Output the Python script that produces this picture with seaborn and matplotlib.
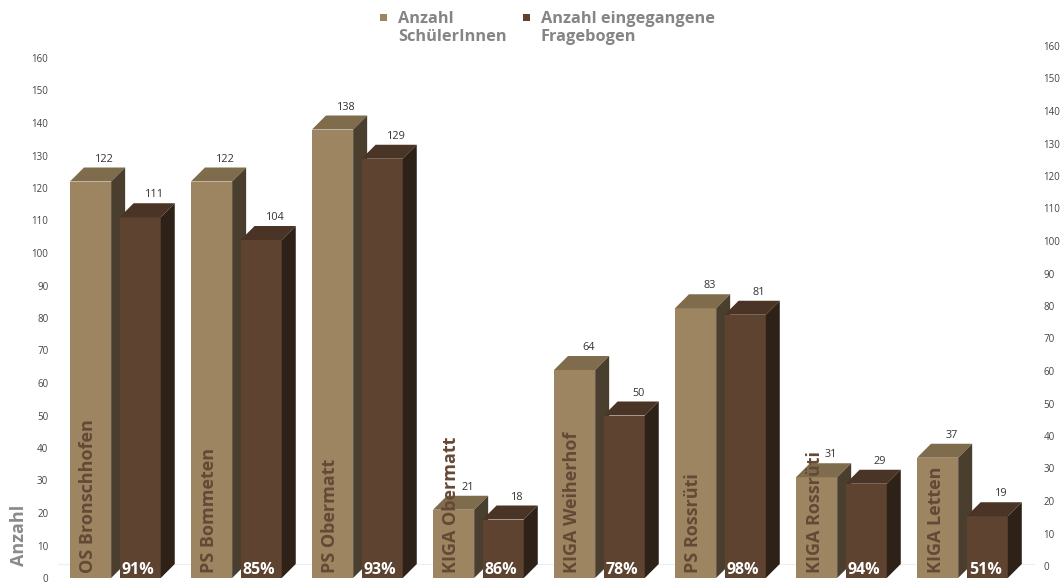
import matplotlib
matplotlib.use("Agg")
import matplotlib.pyplot as plt
from matplotlib.patches import Polygon, Rectangle
import seaborn as sns
import pandas as pd

categories = ["OS Bronschhofen", "PS Bommeten", "PS Obermatt", "KIGA Obermatt",
              "KIGA Weiherhof", "PS Rossrüti", "KIGA Rossrüti", "KIGA Letten"]
schueler = [122, 122, 138, 21, 64, 83, 31, 37]
frageboegen = [111, 104, 129, 18, 50, 81, 29, 19]
prozent = [91, 85, 93, 86, 78, 98, 94, 51]
series_names = ["Anzahl\nSchülerInnen", "Anzahl eingegangene\nFragebogen"]
y_ticks = list(range(0, 161, 10))

front = ["#9c8560", "#5e4330"]
top = ["#7f6c4d", "#4a3425"]
side = ["#4a3f2f", "#2e2117"]

sns.set_theme(style="white")
plt.rcParams["font.family"] = ["Open Sans", "DejaVu Sans"]

df = pd.DataFrame({
    "Kategorie": categories * 2,
    "Wert": schueler + frageboegen,
    "Serie": [series_names[0]] * len(categories) + [series_names[1]] * len(categories),
})

W, H = 1062, 583
fig = plt.figure(figsize=(W / 100, H / 100), dpi=100)
ax = fig.add_axes([58 / W, 5 / H, 977 / W, 520 / H])

sns.barplot(data=df, x="Kategorie", y="Wert", hue="Serie", palette=front,
            width=0.82, gap=0.17, saturation=1, linewidth=0, legend=False, ax=ax)

ax.set_xlim(-0.474, 7.6)
ax.set_ylim(0, 160)
ax.set_xlabel("")
ax.set_ylabel("")
ax.set_xticks([])
ax.set_yticks(y_ticks)
ax.tick_params(axis="y", length=0, pad=7, labelsize=7, labelcolor="#444444")
for s in ax.spines.values():
    s.set_visible(False)

# 3D depth in pixels -> data units
p0 = ax.transData.transform((0, 0))
p1 = ax.transData.transform((1, 1))
dx = 14 / (p1[0] - p0[0])
dy = 14 / (p1[1] - p0[1])

# faint floor line
ax.axhline(dy, color="#eeeeee", lw=0.8, zorder=0.5)

for k, cont in enumerate(ax.containers):
    for i, bar in enumerate(cont):
        bar.set_zorder(2 + k)
        x0 = bar.get_x()
        w = bar.get_width()
        h = bar.get_height()
        x1 = x0 + w
        ax.add_patch(Polygon([(x0, h), (x1, h), (x1 + dx, h + dy), (x0 + dx, h + dy)],
                             closed=True, facecolor=top[k], edgecolor="none", zorder=2 + k))
        ax.add_patch(Polygon([(x1, 0), (x1, h), (x1 + dx, h + dy), (x1 + dx, dy)],
                             closed=True, facecolor=side[k], edgecolor="none", zorder=2 + k))
        ax.annotate(f"{int(h)}", (x0 + w / 2 + dx, h + dy), xytext=(0, 2),
                    textcoords="offset points", ha="center", va="bottom",
                    fontsize=7.8, color="#333333", zorder=6)
        if k == 0:
            ax.annotate(categories[i], (x0 + w / 2, 0), xytext=(-1.5, 3.5),
                        textcoords="offset points", rotation=90, ha="center",
                        va="bottom", fontsize=13, fontweight="bold",
                        color="#654835", zorder=7)
        else:
            ax.annotate(f"{prozent[i]}%", (x0, 0), xytext=(1.5, 0),
                        textcoords="offset points", ha="left", va="bottom",
                        fontsize=11.5, fontweight="bold", color="white", zorder=7)

# right axis (back wall), shifted up by depth
ax2 = fig.add_axes([58 / W, 17 / H, 977 / W, 520 / H])
ax2.set_ylim(0, 160)
ax2.set_xlim(0, 1)
ax2.patch.set_visible(False)
for s in ax2.spines.values():
    s.set_visible(False)
ax2.set_xticks([])
ax2.yaxis.tick_right()
ax2.set_yticks(y_ticks)
ax2.tick_params(axis="y", length=0, pad=6, labelsize=7, labelcolor="#444444")

# y-axis title
fig.text(19 / W, 1 - 535 / H, "Anzahl", rotation=90, ha="center", va="center",
         fontsize=13, fontweight="bold", color="#8a8a8a")

# legend
leg_x = [380, 523]
for k in range(2):
    fig.patches.append(Rectangle((leg_x[k] / W, 1 - 21 / H), 7 / W, 7 / H,
                                 transform=fig.transFigure, facecolor=front[k],
                                 edgecolor="none"))
    fig.text((leg_x[k] + 18) / W, 1 - 11 / H, series_names[k], ha="left", va="top",
             fontsize=11.8, fontweight="bold", color="#858585", linespacing=1.15)

fig.savefig("out.png", dpi=100)
